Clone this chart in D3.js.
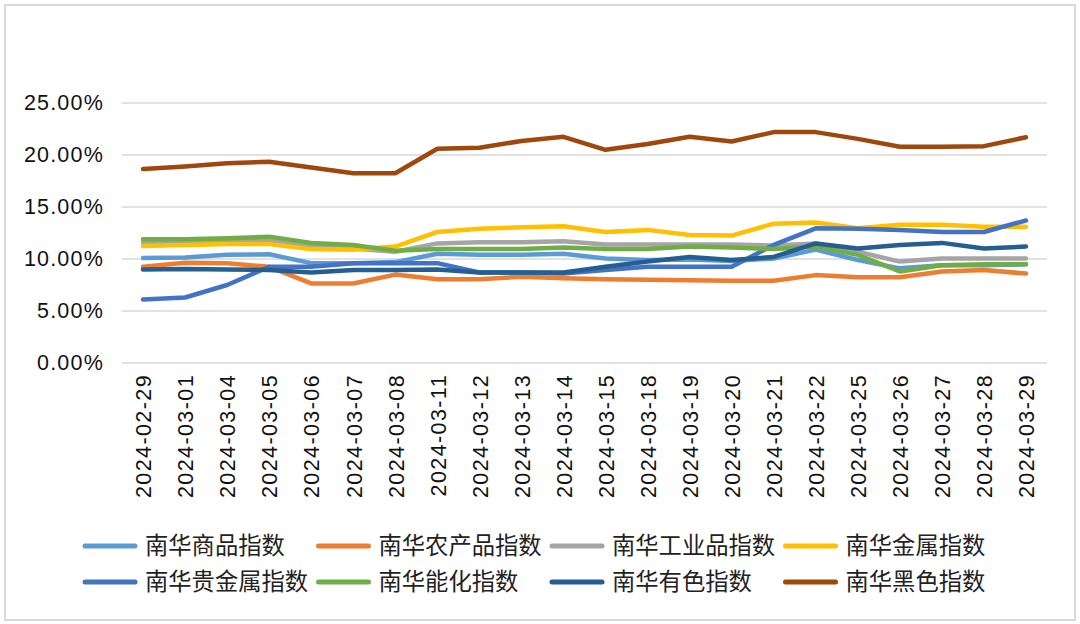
<!DOCTYPE html>
<html>
<head>
<meta charset="utf-8">
<script src="https://cdn.jsdelivr.net/npm/d3@7"></script>
<style>
  body { margin: 0; background: #fff; }
  svg { display: block; }
</style>
</head>
<body>
<div id="chart"></div>
<script>
const dates = ['2024-02-29', '2024-03-01', '2024-03-04', '2024-03-05', '2024-03-06', '2024-03-07',
  '2024-03-08', '2024-03-11', '2024-03-12', '2024-03-13', '2024-03-14', '2024-03-15', '2024-03-18',
  '2024-03-19', '2024-03-20', '2024-03-21', '2024-03-22', '2024-03-25', '2024-03-26', '2024-03-27',
  '2024-03-28', '2024-03-29'];

const yTicks = [0, 5, 10, 15, 20, 25];

// values in percent
const commodity = [10.1, 10.15, 10.4, 10.45, 9.6, 9.6, 9.7, 10.5, 10.4, 10.4, 10.5, 10.05, 9.9, 9.95, 9.8, 10.05, 10.9, 9.9, 9.1, 9.4, 9.4, 9.5];
const agri = [9.25, 9.65, 9.6, 9.25, 7.65, 7.65, 8.5, 8.05, 8.05, 8.3, 8.15, 8.05, 8.0, 7.95, 7.9, 7.9, 8.45, 8.25, 8.25, 8.8, 8.95, 8.6];
const industrial = [11.6, 11.6, 11.7, 11.8, 11.2, 11.0, 10.7, 11.5, 11.6, 11.6, 11.7, 11.4, 11.4, 11.4, 11.4, 11.3, 11.5, 10.7, 9.75, 10.05, 10.05, 10.05];
const metals = [11.25, 11.35, 11.45, 11.45, 10.95, 10.9, 11.2, 12.6, 12.9, 13.05, 13.15, 12.6, 12.8, 12.3, 12.25, 13.4, 13.5, 12.95, 13.3, 13.3, 13.1, 13.1];
const precious = [6.1, 6.3, 7.5, 9.25, 9.25, 9.6, 9.6, 9.6, 8.7, 8.7, 8.6, 8.95, 9.25, 9.25, 9.25, 11.35, 12.95, 12.9, 12.8, 12.6, 12.6, 13.7];
const energyChem = [11.9, 11.9, 12.0, 12.15, 11.55, 11.35, 10.8, 10.95, 10.95, 10.95, 11.1, 10.95, 10.95, 11.2, 11.1, 10.95, 11.2, 10.4, 8.8, 9.4, 9.5, 9.5];
const nonferrous = [9.0, 9.05, 9.0, 8.95, 8.7, 8.95, 8.95, 9.0, 8.7, 8.7, 8.7, 9.25, 9.75, 10.2, 9.9, 10.2, 11.5, 11.0, 11.35, 11.55, 11.0, 11.2];
const ferrous = [18.65, 18.9, 19.2, 19.35, 18.8, 18.25, 18.25, 20.6, 20.7, 21.35, 21.75, 20.5, 21.05, 21.75, 21.3, 22.2, 22.2, 21.55, 20.8, 20.8, 20.85, 21.7];

const seriesNames = ['南华商品指数', '南华农产品指数', '南华工业品指数', '南华金属指数',
  '南华贵金属指数', '南华能化指数', '南华有色指数', '南华黑色指数'];
const seriesValues = [commodity, agri, industrial, metals, precious, energyChem, nonferrous, ferrous];
const colors = ['#5B9BD5', '#ED7D31', '#A5A5A5', '#FFC000', '#4472C4', '#70AD47', '#255E91', '#9E480E'];

const svgWidth = 1080;
const svgHeight = 624;
const margin = { left: 122, right: 33, top: 103, bottom: 261 };

const svg = d3.select('#chart')
  .append('svg')
  .attr('width', svgWidth)
  .attr('height', svgHeight);

// outer frame
svg.append('rect')
  .attr('x', 5).attr('y', 5)
  .attr('width', 1070).attr('height', 615)
  .attr('fill', 'none')
  .attr('stroke', '#d9d9d9')
  .attr('stroke-width', 2);

const x = d3.scalePoint()
  .domain(dates)
  .range([margin.left, svgWidth - margin.right])
  .padding(0.5);

const y = d3.scaleLinear()
  .domain([0, 25])
  .range([svgHeight - margin.bottom, margin.top]);

// gridlines
svg.append('g')
  .selectAll('line')
  .data(yTicks)
  .enter()
  .append('line')
  .attr('x1', margin.left)
  .attr('x2', svgWidth - margin.right)
  .attr('y1', (d) => y(d))
  .attr('y2', (d) => y(d))
  .attr('stroke', '#d9d9d9')
  .attr('stroke-width', 1.5);

// y axis labels
const yAxis = svg.append('g')
  .attr('transform', `translate(${margin.left - 18}, 0)`)
  .call(d3.axisLeft(y).tickValues(yTicks).tickSize(0).tickFormat((d) => d.toFixed(2) + '%'));
yAxis.select('.domain').remove();
yAxis.selectAll('text')
  .attr('x', 0)
  .attr('font-family', '"Liberation Sans", Arial, sans-serif')
  .attr('font-size', 21.5)
  .attr('letter-spacing', 1.2)
  .attr('fill', '#111');

// x axis labels
const xAxis = svg.append('g')
  .attr('transform', `translate(0, ${y(0)})`)
  .call(d3.axisBottom(x).tickSize(0));
xAxis.select('.domain').remove();
xAxis.selectAll('text')
  .attr('font-family', '"Liberation Sans", Arial, sans-serif')
  .attr('font-size', 21.5)
  .attr('letter-spacing', 1.4)
  .attr('fill', '#111')
  .attr('text-anchor', 'end')
  .attr('transform', 'rotate(-90)')
  .attr('x', -11)
  .attr('y', 0)
  .attr('dy', '0.36em');

// lines
const line = d3.line()
  .x((d, i) => x(dates[i]))
  .y((d) => y(d));

svg.append('g')
  .selectAll('path')
  .data(seriesValues)
  .enter()
  .append('path')
  .attr('d', line)
  .attr('fill', 'none')
  .attr('stroke', (d, i) => colors[i])
  .attr('stroke-width', 4.5)
  .attr('stroke-linejoin', 'round')
  .attr('stroke-linecap', 'round');

// legend, 4 per row
const legend = svg.append('g');
const items = legend.selectAll('g')
  .data(seriesNames)
  .enter()
  .append('g')
  .attr('transform', (d, i) => `translate(${85 + (i % 4) * 233.5}, ${546 + Math.floor(i / 4) * 36})`);

items.append('line')
  .attr('x1', 0).attr('x2', 50)
  .attr('stroke', (d, i) => colors[i])
  .attr('stroke-width', 5)
  .attr('stroke-linecap', 'round');

items.append('text')
  .attr('x', 60)
  .attr('dy', '0.36em')
  .attr('font-family', '"Noto Sans CJK SC", sans-serif')
  .attr('font-size', 23.3)
  .attr('fill', '#222')
  .text((d) => d);
</script>
</body>
</html>
